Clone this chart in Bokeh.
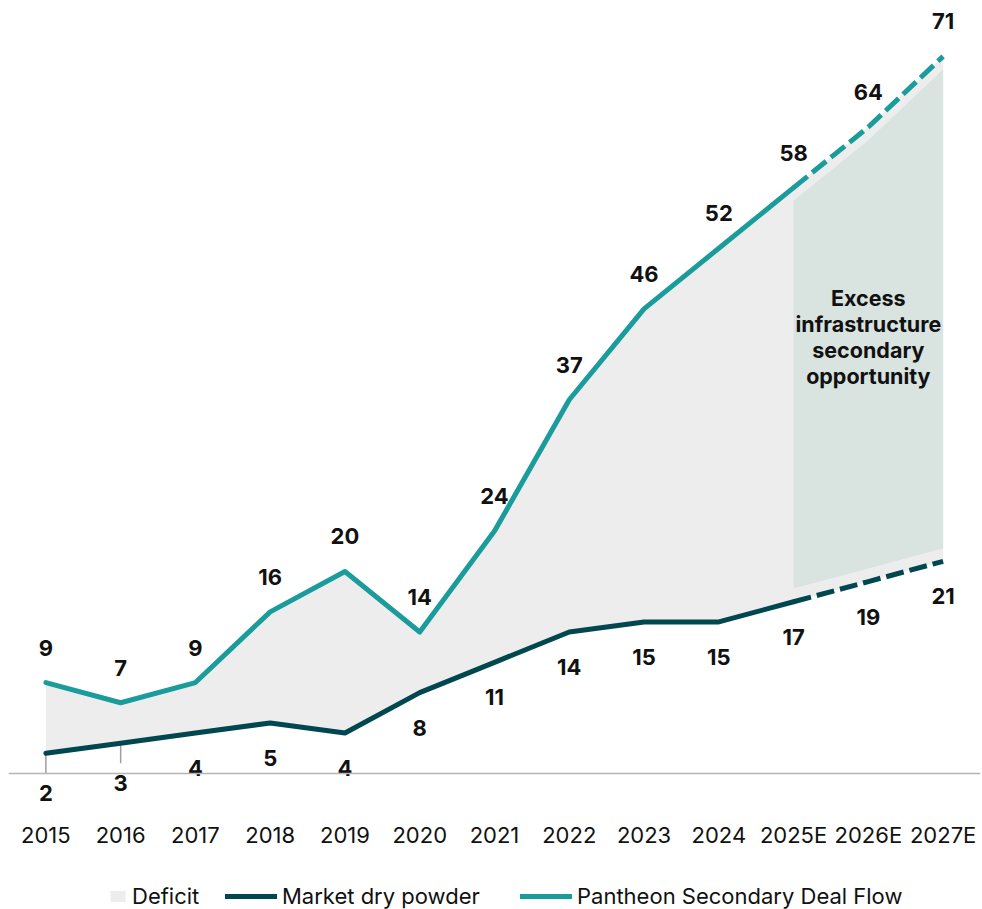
from bokeh.plotting import figure
from bokeh.models import ColumnDataSource, FactorRange, Range1d, Legend, LegendItem
from bokeh.core.properties import value
from bokeh.embed import file_html
from bokeh.resources import INLINE

# ---------------- data ----------------
years = ["2015", "2016", "2017", "2018", "2019", "2020", "2021",
         "2022", "2023", "2024", "2025E", "2026E", "2027E"]
pantheon_deal_flow = [9, 7, 9, 16, 20, 14, 24, 37, 46, 52, 58, 64, 71]
market_dry_powder = [2, 3, 4, 5, 4, 8, 11, 14, 15, 15, 17, 19, 21]
first_estimate_year = "2025E"
leader_years = ["2015", "2016"]
excess_text = "Excess\ninfrastructure\nsecondary\nopportunity"
legend_labels = ["Deficit", "Market dry powder", "Pantheon Secondary Deal Flow"]

# ---------------- styles ----------------
TEAL = "#1B9C9C"
DARK = "#00474F"
DEFICIT = "#EDEDED"
EXCESS = "#D9E3E0"
TEXT = "#111111"
FONT = "Inter"
EXCESS_INSET = 1.3
EXCESS_Y = 43.2
LEADER_LEN = 2

k = years.index(first_estimate_year)

p = figure(width=982, height=909,
           x_range=FactorRange(factors=years, range_padding=0),
           y_range=Range1d(-13.47, 76.53),
           output_backend="svg", toolbar_location=None,
           y_axis_location=None, x_axis_location="below",
           min_border_left=8, min_border_right=2, min_border_top=0,
           min_border_bottom=0)
p.outline_line_color = None
p.xgrid.visible = False
p.ygrid.visible = False
p.background_fill_color = None
p.border_fill_color = None

# category axis drawn on the zero line (acts as the baseline)
ax = p.xaxis[0]
ax.fixed_location = 0
ax.axis_line_color = "#B5B5B5"
ax.axis_line_width = 1.5
ax.major_tick_line_color = None
ax.minor_tick_line_color = None
ax.major_tick_out = 0
ax.major_tick_in = 0
ax.major_label_standoff = 49
ax.major_label_text_font = FONT
ax.major_label_text_font_size = "22px"
ax.major_label_text_color = TEXT

# deficit area
src_all = ColumnDataSource(dict(x=years, pan=pantheon_deal_flow, dry=market_dry_powder))
r_def = p.varea(x="x", y1="dry", y2="pan", source=src_all, fill_color=DEFICIT)

# excess opportunity area (estimates)
src_exc = ColumnDataSource(dict(
    x=years[k:],
    lo=[v + EXCESS_INSET for v in market_dry_powder[k:]],
    hi=[v - EXCESS_INSET for v in pantheon_deal_flow[k:]],
))
p.varea(x="x", y1="lo", y2="hi", source=src_exc, fill_color=EXCESS)

p.text(x=["2026E"], y=[EXCESS_Y], text=[excess_text],
       text_font=value(FONT), text_font_style="bold", text_font_size="21.5px",
       text_align="center", text_baseline="middle", text_line_height=1.0,
       text_color=TEXT)

# leader lines
ldr_y = [market_dry_powder[years.index(y)] for y in leader_years]
p.segment(x0=leader_years, y0=ldr_y, x1=leader_years,
          y1=[v - LEADER_LEN for v in ldr_y], line_color="#9E9E9E", line_width=1.5)

# lines: actual (solid) and estimate (dashed)
r_dry = p.line(years[:k + 1], market_dry_powder[:k + 1], line_color=DARK, line_width=5,
               line_cap="round", line_join="round")
p.line(years[k:], market_dry_powder[k:], line_color=DARK, line_width=5,
       line_dash="18 6", line_join="round")
r_pan = p.line(years[:k + 1], pantheon_deal_flow[:k + 1], line_color=TEAL, line_width=5,
               line_cap="round", line_join="round")
p.line(years[k:], pantheon_deal_flow[k:], line_color=TEAL, line_width=5,
       line_dash="18 6", line_join="round")

# value labels
lab_kw = dict(text_font=value(FONT), text_font_style="bold", text_font_size="22px",
              text_align="center", text_baseline="middle", text_color=TEXT)
p.text(x=years, y=pantheon_deal_flow, text=[str(v) for v in pantheon_deal_flow],
       y_offset=-35, **lab_kw)
src_dl = ColumnDataSource(dict(
    x=years, y=market_dry_powder, t=[str(v) for v in market_dry_powder],
    off=[40 if y in leader_years else 35 for y in years]))
p.text(x="x", y="y", text="t", y_offset="off", source=src_dl, **lab_kw)

# legend (three single-item legends at the bottom of the frame)
def make_legend(label, rend, x, gw, gh, standoff):
    return Legend(items=[LegendItem(label=label, renderers=[rend])],
                  location=(x, 0), orientation="horizontal",
                  glyph_width=gw, glyph_height=gh, label_standoff=standoff,
                  padding=0, margin=0, spacing=0, label_height=gh,
                  border_line_color=None, background_fill_alpha=0,
                  label_text_font=FONT, label_text_font_size="22px",
                  label_text_color=TEXT)

p.add_layout(make_legend(legend_labels[0], r_def, 100, 19, 14, 5))
p.add_layout(make_legend(legend_labels[1], r_dry, 217, 52, 26, 5))
p.add_layout(make_legend(legend_labels[2], r_pan, 512, 52, 26, 5))

open("out.html", "w").write(file_html(p, INLINE))
